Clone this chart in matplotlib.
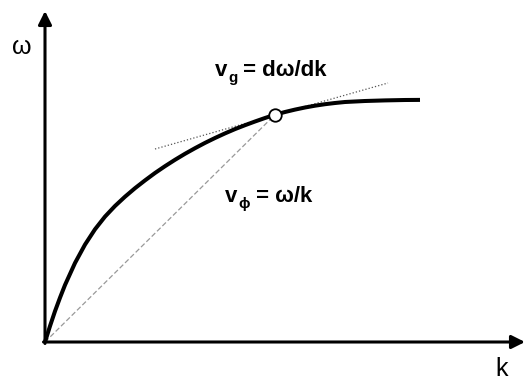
import matplotlib.pyplot as plt

plt.rcParams['font.family'] = ['Liberation Sans', 'DejaVu Sans']

# dispersion curve omega(k)
k = [0, 5, 10, 15, 20, 30, 40, 50, 60, 70, 80, 90, 100, 110, 120, 130, 140,
     150, 160, 170, 180, 190, 200, 210, 220, 230, 240, 250, 260, 270, 280,
     290, 300, 320, 340, 360, 375]
w = [0, 15.9, 30.8, 44.3, 57.0, 79.0, 97.4, 112.7, 125.4, 136.0, 145.3,
     153.8, 161.6, 169.0, 175.8, 182.2, 188.2, 193.8, 199.1, 204.0, 208.6,
     212.9, 216.8, 220.5, 224.0, 227.3, 230.0, 232.4, 234.5, 236.3, 237.8,
     239.0, 240.0, 241.0, 241.6, 242.0, 242.1]

# operating point and tangent through it
k0, w0 = 230, 227.3
tan_k = [110, 343]
tan_w = [193, 259]

fig = plt.figure(figsize=(5.25, 3.81), dpi=100)
ax = fig.add_axes([0, 0, 1, 1])
ax.set_xlim(-45, 480)
ax.set_ylim(-39, 342)
ax.axis('off')

# axes with arrow heads
arrow = dict(arrowstyle='-|>', lw=2.2, color='black', mutation_scale=20,
             shrinkA=0, shrinkB=0)
ax.annotate('', xy=(0, 331), xytext=(0, -1.5), arrowprops=arrow,
            annotation_clip=False)
ax.annotate('', xy=(480, 0), xytext=(-1.5, 0), arrowprops=arrow,
            annotation_clip=False)

ax.plot(k, w, color='black', lw=2.9, solid_capstyle='butt',
        solid_joinstyle='round', zorder=3)
ax.plot(tan_k, tan_w, color='#555555', lw=0.9, ls=':', zorder=2)
ax.plot([0, k0], [0, w0], color='#999999', lw=0.9, dashes=(4, 2), zorder=2)
ax.plot([k0], [w0], 'o', ms=9, mfc='white', mec='black', mew=1.3, zorder=4)

ax.text(-23, 295, 'ω', fontsize=18, ha='center', va='center')
ax.text(457, -27, 'k', fontsize=18, ha='center', va='center')


def velocity_label(x, y, sub, rest):
    # "v" with a small subscript, then the rest of the formula
    v = ax.text(x, y, 'v', fontsize=16, fontweight='bold',
                ha='left', va='bottom')
    s = ax.annotate(sub, xy=(1, 0), xycoords=v, xytext=(0.5, -3),
                    textcoords='offset points', fontsize=11,
                    fontweight='bold', ha='left', va='bottom')
    ax.annotate(rest, xy=(1, 0), xycoords=(s, v), fontsize=16,
                fontweight='bold', ha='left', va='bottom')


velocity_label(170, 261, 'g', ' = dω/dk')
velocity_label(180, 135, 'ϕ', ' = ω/k')

fig.savefig('out.png', dpi=100)
